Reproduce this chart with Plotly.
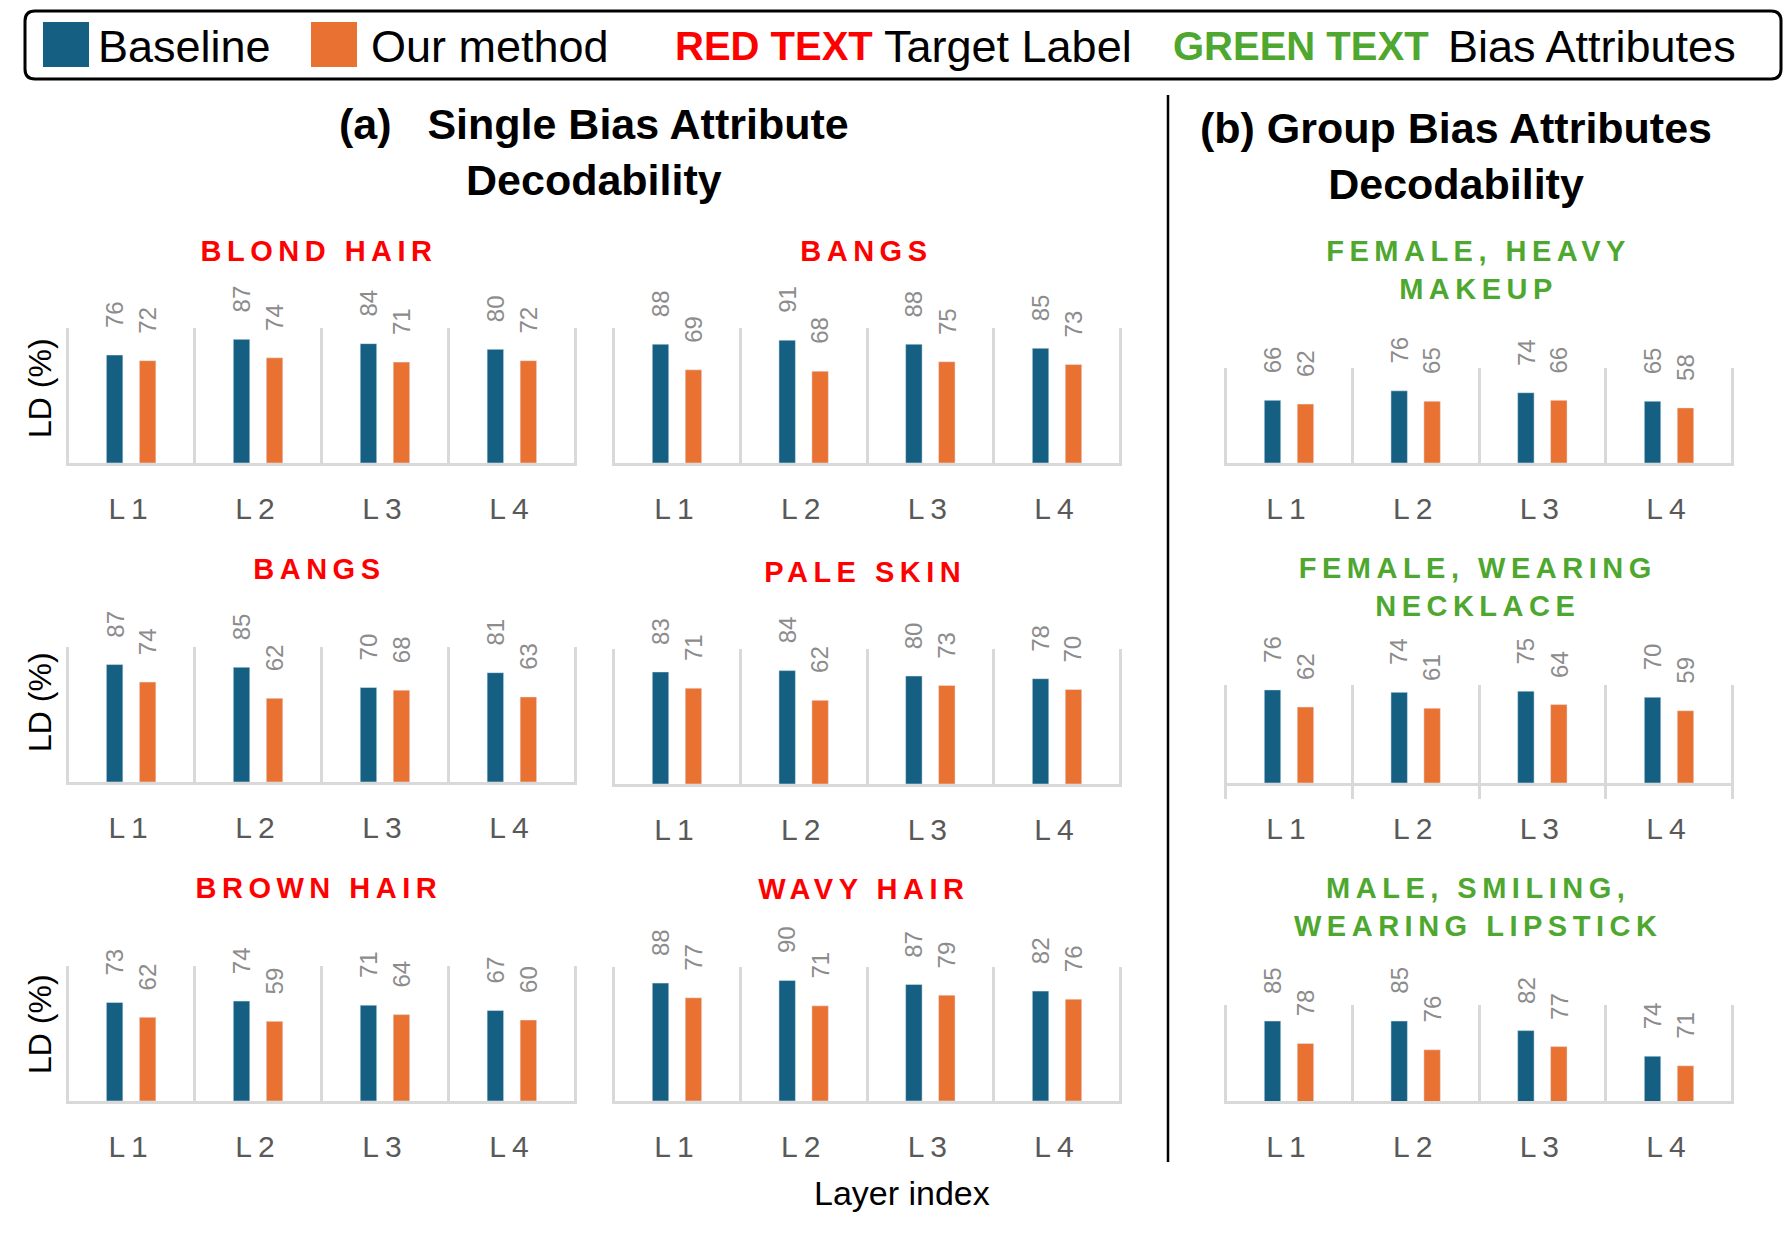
import json
import plotly.graph_objects as go

W, H = 1788, 1236

LAYERS = ["L1", "L2", "L3", "L4"]

# (a) single bias attribute decodability, LD (%)
BLOND_BASE = [76, 87, 84, 80]
BLOND_OURS = [72, 74, 71, 72]
BANGS_TOP_BASE = [88, 91, 88, 85]
BANGS_TOP_OURS = [69, 68, 75, 73]
BANGS_MID_BASE = [87, 85, 70, 81]
BANGS_MID_OURS = [74, 62, 68, 63]
PALE_BASE = [83, 84, 80, 78]
PALE_OURS = [71, 62, 73, 70]
BROWN_BASE = [73, 74, 71, 67]
BROWN_OURS = [62, 59, 64, 60]
WAVY_BASE = [88, 90, 87, 82]
WAVY_OURS = [77, 71, 79, 76]

# (b) group bias attributes decodability
MAKEUP_BASE = [66, 76, 74, 65]
MAKEUP_OURS = [62, 65, 66, 58]
NECKLACE_BASE = [76, 74, 75, 70]
NECKLACE_OURS = [62, 61, 64, 59]
LIPSTICK_BASE = [85, 85, 82, 74]
LIPSTICK_OURS = [78, 76, 77, 71]

TARGET_TITLES = ["BLOND HAIR", "BANGS", "BANGS", "PALE SKIN", "BROWN HAIR", "WAVY HAIR"]
GROUP_TITLES = ["FEMALE, HEAVY<br>MAKEUP", "FEMALE, WEARING<br>NECKLACE",
                "MALE, SMILING,<br>WEARING LIPSTICK"]

BLUE = "#156082"
ORANGE = "#E97132"
RED = "#FF0000"
GREEN = "#4EA72E"
GRID = "#D9D9D9"
LABEL_GRAY = "#8C8C8C"
TICK_GRAY = "#595959"
FONT = "Liberation Sans, Arial, sans-serif"

BAR_W = 0.13
BAR_SHIFT = 0.13

# pixel boxes of the plot areas: (x0, x1) per column, top/bottom per panel
COLS = {"l": (66, 577), "m": (612, 1122), "r": (1224, 1734)}
panels = [
    # title, colour, baseline, ours, y range, col, top, bottom, outside ticks
    (TARGET_TITLES[0], RED, BLOND_BASE, BLOND_OURS, [0, 95], "l", 328, 463, False),
    (TARGET_TITLES[1], RED, BANGS_TOP_BASE, BANGS_TOP_OURS, [0, 100], "m", 328, 463, False),
    (GROUP_TITLES[0], GREEN, MAKEUP_BASE, MAKEUP_OURS, [0, 100], "r", 368, 463, False),
    (TARGET_TITLES[2], RED, BANGS_MID_BASE, BANGS_MID_OURS, [0, 100], "l", 647, 782, False),
    (TARGET_TITLES[3], RED, PALE_BASE, PALE_OURS, [0, 100], "m", 649, 784, False),
    (GROUP_TITLES[1], GREEN, NECKLACE_BASE, NECKLACE_OURS, [0, 80], "r", 685, 783, True),
    (TARGET_TITLES[4], RED, BROWN_BASE, BROWN_OURS, [0, 100], "l", 966, 1101, False),
    (TARGET_TITLES[5], RED, WAVY_BASE, WAVY_OURS, [0, 100], "m", 967, 1101, False),
    (GROUP_TITLES[2], GREEN, LIPSTICK_BASE, LIPSTICK_OURS, [60, 90], "r", 1005, 1101, False),
]
# centre of the coloured sub-title, in pixels
title_pos = [(319, 251), (866, 251), (1478, 270),
             (319, 569), (865, 572), (1478, 587),
             (319, 888), (864, 889), (1478, 907)]


def px(x):
    return x / W


def py(y):
    return 1 - y / H


fig = go.Figure()
pos = list(range(len(LAYERS)))

for k, (title, tcolor, base, ours, yr, col, top, bottom, outside) in enumerate(panels, start=1):
    sfx = "" if k == 1 else str(k)
    xref, yref = "x" + sfx, "y" + sfx
    x0, x1 = COLS[col]

    fig.add_trace(go.Bar(x=pos, y=base, name="Baseline", width=BAR_W,
                         offset=-BAR_SHIFT - BAR_W / 2, marker_color=BLUE,
                         xaxis=xref, yaxis=yref, showlegend=False))
    fig.add_trace(go.Bar(x=pos, y=ours, name="Our method", width=BAR_W,
                         offset=BAR_SHIFT - BAR_W / 2, marker_color=ORANGE,
                         xaxis=xref, yaxis=yref, showlegend=False))

    for vals, shift in ((base, -BAR_SHIFT), (ours, BAR_SHIFT)):
        for i, v in enumerate(vals):
            fig.add_annotation(x=i + shift, y=v, xref=xref, yref=yref, text=str(v),
                               textangle=-90, yanchor="bottom", yshift=25,
                               showarrow=False,
                               font=dict(size=24, color=LABEL_GRAY, family=FONT))

    minor = dict(tickvals=[p - 0.5 for p in pos] + [pos[-1] + 0.5],
                 showgrid=True, gridcolor=GRID, gridwidth=2.5)
    if outside:
        minor.update(ticks="outside", ticklen=13, tickwidth=2.5, tickcolor=GRID)

    fig.update_layout({
        "xaxis" + sfx: dict(domain=[px(x0), px(x1)], anchor=yref,
                            range=[-0.513, len(LAYERS) - 0.487],
                            tickvals=pos, ticktext=LAYERS, ticks="",
                            showgrid=False, zeroline=False,
                            showline=True, linecolor=GRID, linewidth=3,
                            ticklabelstandoff=17, minor=minor,
                            tickfont=dict(size=30, color=TICK_GRAY, family=FONT)),
        "yaxis" + sfx: dict(domain=[py(bottom), py(top)], anchor=xref, range=yr,
                            visible=False, showgrid=False, zeroline=False),
    })

    tx, ty = title_pos[k - 1]
    fig.add_annotation(x=px(tx), y=py(ty), xref="paper", yref="paper", text=title,
                       showarrow=False, xanchor="center", yanchor="middle",
                       font=dict(size=29, color=tcolor, family=FONT, weight="bold"))

# y-axis titles on the left column
for yc in (388, 702, 1024):
    fig.add_annotation(x=px(40), y=py(yc), xref="paper", yref="paper", text="LD (%)",
                       textangle=-90, showarrow=False, xanchor="center", yanchor="middle",
                       font=dict(size=32, color="black", family=FONT))

fig.add_annotation(x=px(902), y=py(1193), xref="paper", yref="paper", text="Layer index",
                   showarrow=False, xanchor="center", yanchor="middle",
                   font=dict(size=34, color="black", family=FONT))

# section titles
fig.add_annotation(x=px(594), y=py(152), xref="paper", yref="paper",
                   text="(a)\u00a0\u00a0\u00a0Single Bias Attribute<br>Decodability",
                   showarrow=False, xanchor="center", yanchor="middle",
                   font=dict(size=43, color="black", family=FONT, weight="bold"))
fig.add_annotation(x=px(1456), y=py(156), xref="paper", yref="paper",
                   text="(b) Group Bias Attributes<br>Decodability",
                   showarrow=False, xanchor="center", yanchor="middle",
                   font=dict(size=43, color="black", family=FONT, weight="bold"))

# divider between (a) and (b)
fig.add_shape(type="line", xref="paper", yref="paper", x0=px(1168), x1=px(1168),
              y0=py(95), y1=py(1162), line=dict(color="black", width=2.5))

# legend box with rounded corners
bx0, bx1, by0, by1, r = 25, 1781, 11, 79, 10
path = (f"M {px(bx0 + r)} {py(by0)} L {px(bx1 - r)} {py(by0)} "
        f"Q {px(bx1)} {py(by0)} {px(bx1)} {py(by0 + r)} L {px(bx1)} {py(by1 - r)} "
        f"Q {px(bx1)} {py(by1)} {px(bx1 - r)} {py(by1)} L {px(bx0 + r)} {py(by1)} "
        f"Q {px(bx0)} {py(by1)} {px(bx0)} {py(by1 - r)} L {px(bx0)} {py(by0 + r)} "
        f"Q {px(bx0)} {py(by0)} {px(bx0 + r)} {py(by0)} Z")
fig.add_shape(type="path", path=path, xref="paper", yref="paper",
              line=dict(color="black", width=3))

for sx, color in ((43, BLUE), (311, ORANGE)):
    fig.add_shape(type="rect", xref="paper", yref="paper", x0=px(sx), x1=px(sx + 46),
                  y0=py(67), y1=py(22), fillcolor=color, line_width=0)

legend_items = [
    (96, "Baseline", "black", "normal"),
    (369, "Our method", "black", "normal"),
    (673, "RED TEXT", RED, "bold"),
    (882, "Target Label", "black", "normal"),
    (1171, "GREEN TEXT", GREEN, "bold"),
    (1446, "Bias Attributes", "black", "normal"),
]
for lx, text, color, weight in legend_items:
    fig.add_annotation(x=px(lx), y=py(46), xref="paper", yref="paper", text=text,
                       showarrow=False, xanchor="left", yanchor="middle",
                       font=dict(size=45 if weight == "normal" else 40, color=color,
                                 family=FONT, weight=weight))

fig.update_layout(
    width=W, height=H,
    margin=dict(l=0, r=0, t=0, b=0),
    paper_bgcolor="white", plot_bgcolor="white",
    barmode="overlay",
    font=dict(family=FONT),
)

spaced = json.dumps(TARGET_TITLES + GROUP_TITLES)
post = """
document.body.style.margin = '0';
var spaced = %s;
document.querySelectorAll('text.annotation-text').forEach(function(t){
  if (spaced.indexOf(t.getAttribute('data-unformatted')) >= 0) {
    t.style.letterSpacing = '5.5px';
  }
});
document.querySelectorAll('.xaxislayer-above text').forEach(function(t){
  t.style.letterSpacing = '6px';
});
""" % spaced

fig.write_html("out.html", post_script=post, config={"displayModeBar": False})
